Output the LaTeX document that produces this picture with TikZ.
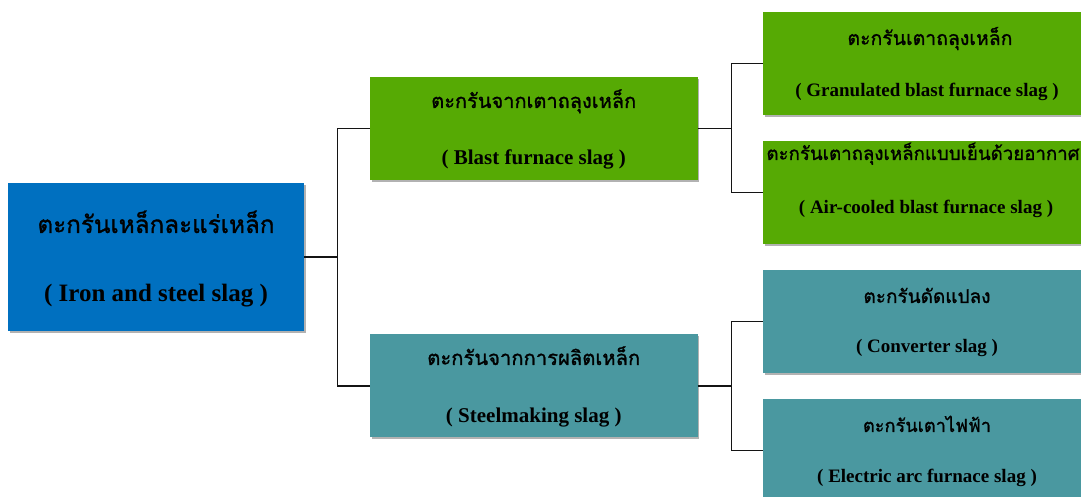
\documentclass[tikz,border=0pt]{standalone}
\usepackage{fontspec}
\setmainfont{Liberation Serif}
\newfontfamily\thaifont[Script=Thai, FakeBold=1.2]{Loma}
\usetikzlibrary{shadows}
\definecolor{rootblue}{RGB}{0,112,192}
\definecolor{slaggreen}{RGB}{86,170,4}
\definecolor{slagteal}{RGB}{74,152,160}
\definecolor{linegray}{RGB}{20,20,20}
\begin{document}
\begin{tikzpicture}[x=1pt,y=1pt,
  box/.style={fill=#1, draw=none, inner sep=0pt,
    drop shadow={shadow xshift=1.5pt, shadow yshift=-1.8pt, opacity=0.3, fill=black}},
  thline/.style={anchor=base, inner sep=0pt, text=black},
  enline/.style={anchor=base, inner sep=0pt, text=black, font=\bfseries\fontsize{#1}{#1}\selectfont},
  conn/.style={draw=linegray, line width=1.2pt}
]
\useasboundingbox (0,0) rectangle (1081,497);
\clip (0,0) rectangle (1081,497);

% boxes
\node[box=rootblue, minimum width=296, minimum height=148] (root) at (156,240) {};
\node[box=slaggreen, minimum width=327.5, minimum height=103] (blast) at (533.75,368.5) {};
\node[box=slagteal, minimum width=327.5, minimum height=103] (steel) at (533.75,111) {};
\node[box=slaggreen, minimum width=328, minimum height=103.5] (gran) at (927,433.25) {};
\node[box=slaggreen, minimum width=328, minimum height=102.5] (air) at (927,304.25) {};
\node[box=slagteal, minimum width=328, minimum height=103] (conv) at (927,175.5) {};
\node[box=slagteal, minimum width=328, minimum height=103] (elec) at (927,46.25) {};

% texts
\node[thline] (root-th) at (156,264) {\resizebox{237pt}{!}{\thaifont ตะกรันเหล็กละแร่เหล็ก}};
\node[enline=25] (root-en) at (156,195) {( Iron and steel slag )};

\node[thline] (blast-th) at (533.75,389) {\resizebox{205pt}{!}{\thaifont ตะกรันจากเตาถลุงเหล็ก}};
\node[enline=21] (blast-en) at (533.75,332) {( Blast furnace slag )};

\node[thline] (steel-th) at (533.75,132) {\resizebox{213pt}{!}{\thaifont ตะกรันจากการผลิตเหล็ก}};
\node[enline=21] (steel-en) at (533.75,74.3) {( Steelmaking slag )};

\node[thline] (gran-th) at (930,452) {\resizebox{165pt}{!}{\thaifont ตะกรันเตาถลุงเหล็ก}};
\node[enline=19] (gran-en) at (927,400) {( Granulated blast furnace slag )};

\node[thline] (air-th) at (923,337) {\resizebox{313pt}{!}{\thaifont ตะกรันเตาถลุงเหล็กแบบเย็นด้วยอากาศ}};
\node[enline=19] (air-en) at (926,283) {( Air-cooled blast furnace slag )};

\node[thline] (conv-th) at (927,194) {\resizebox{127pt}{!}{\thaifont ตะกรันดัดแปลง}};
\node[enline=19] (conv-en) at (927,144) {( Converter slag )};

\node[thline] (elec-th) at (927,65) {\resizebox{128pt}{!}{\thaifont ตะกรันเตาไฟฟ้า}};
\node[enline=19] (elec-en) at (927,14) {( Electric arc furnace slag )};

% connectors
\coordinate (j1) at ([xshift=33]root.east);
\coordinate (j2) at ([xshift=33.5]blast.east);
\coordinate (j3) at ([xshift=33.5]steel.east);
\draw[conn] (root.east) -- (j1);
\draw[conn] (blast.west) -| (j1) |- (steel.west);
\draw[conn] (blast.east) -- (j2);
\draw[conn] (gran.west) -| (j2) |- (air.west);
\draw[conn] (steel.east) -- (j3);
\draw[conn] (conv.west) -| (j3) |- (elec.west);
\end{tikzpicture}
\end{document}
